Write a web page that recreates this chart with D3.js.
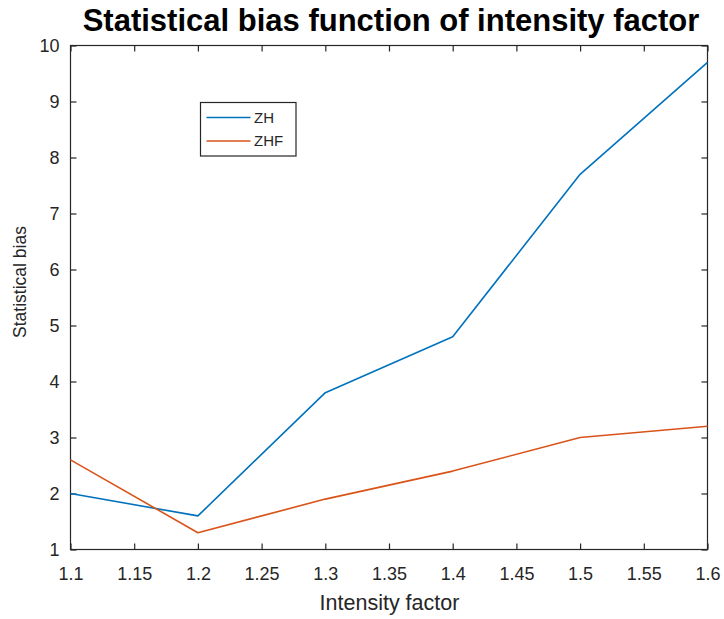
<!DOCTYPE html>
<html><head><meta charset="utf-8">
<script src="https://cdn.jsdelivr.net/npm/d3@7"></script>
<style>body{margin:0;background:#fff}svg{display:block;font-family:"Liberation Sans",Arial,sans-serif}</style>
</head><body><svg id="c" width="724" height="619"></svg>
<script>
const xValues = [1.1, 1.2, 1.3, 1.4, 1.5, 1.6];
const zhValues = [2.0, 1.6, 3.8, 4.8, 7.7, 9.7];
const zhfValues = [2.6, 1.3, 1.9, 2.4, 3.0, 3.2];
const seriesNames = ["ZH", "ZHF"];
const xTicks = [1.1, 1.15, 1.2, 1.25, 1.3, 1.35, 1.4, 1.45, 1.5, 1.55, 1.6];
const yTicks = [1, 2, 3, 4, 5, 6, 7, 8, 9, 10];
const colors = ["#0072BD", "#D95319"];

const svg = d3.select("#c");
const L = 70.5, R = 707.5, T = 45.5, B = 549.5;
const x = d3.scaleLinear().domain([1.1, 1.6]).range([L, R]);
const y = d3.scaleLinear().domain([1, 10]).range([B, T]);
const axisColor = "#262626";

// box
svg.append("rect").attr("x", L).attr("y", T).attr("width", R - L).attr("height", B - T)
  .attr("fill", "none").attr("stroke", axisColor).attr("stroke-width", 1.2);

const fmt = d => String(+d.toFixed(2));
const gx = svg.append("g").attr("transform", `translate(0,${B})`)
  .call(d3.axisBottom(x).tickValues(xTicks).tickFormat(fmt).tickSize(-6).tickPadding(18));
const gxt = svg.append("g").attr("transform", `translate(0,${T})`)
  .call(d3.axisTop(x).tickValues(xTicks).tickFormat("").tickSize(-6));
const gy = svg.append("g").attr("transform", `translate(${L},0)`)
  .call(d3.axisLeft(y).tickValues(yTicks).tickFormat(d3.format("d")).tickSize(-6).tickPadding(11));
const gyr = svg.append("g").attr("transform", `translate(${R},0)`)
  .call(d3.axisRight(y).tickValues(yTicks).tickFormat("").tickSize(-6));

[gx, gxt, gy, gyr].forEach(g => {
  g.select(".domain").remove();
  g.selectAll(".tick line").attr("stroke", axisColor).attr("stroke-width", 1.2);
  g.selectAll(".tick text").attr("fill", axisColor).attr("font-size", 18)
    .attr("font-family", "'Liberation Sans', Arial, sans-serif");
});
gx.selectAll(".tick text").attr("dy", "0.71em").attr("y", 18);
gy.selectAll(".tick text").attr("dy", "0.35em");

const line = d3.line().x((d, i) => x(xValues[i])).y(d => y(d));
[zhValues, zhfValues].forEach((vals, k) => {
  svg.append("path").datum(vals).attr("d", line).attr("fill", "none")
    .attr("stroke", colors[k]).attr("stroke-width", 1.6).attr("stroke-linejoin", "round");
});

svg.append("text").attr("x", 391).attr("y", 30.5).attr("text-anchor", "middle")
  .attr("font-size", 31).attr("font-weight", "bold").attr("fill", "#000")
  .text("Statistical bias function of intensity factor");
svg.append("text").attr("x", 389.5).attr("y", 609.5).attr("text-anchor", "middle")
  .attr("font-size", 21.5).attr("fill", axisColor).text("Intensity factor");
svg.append("text").attr("transform", `translate(26,282) rotate(-90)`).attr("text-anchor", "middle")
  .attr("font-size", 17.5).attr("fill", axisColor).text("Statistical bias");

const lg = svg.append("g");
lg.append("rect").attr("x", 200.5).attr("y", 102.5).attr("width", 95.5).attr("height", 53.5)
  .attr("fill", "#fff").attr("stroke", axisColor).attr("stroke-width", 1.2);
seriesNames.forEach((n, k) => {
  const yy = 117.5 + k * 23.5;
  lg.append("line").attr("x1", 206.5).attr("x2", 250.5).attr("y1", yy).attr("y2", yy)
    .attr("stroke", colors[k]).attr("stroke-width", 1.6);
  lg.append("text").attr("x", 254).attr("y", yy).attr("dy", "0.36em").attr("font-size", 15)
    .attr("fill", axisColor).text(n);
});
</script></body></html>
